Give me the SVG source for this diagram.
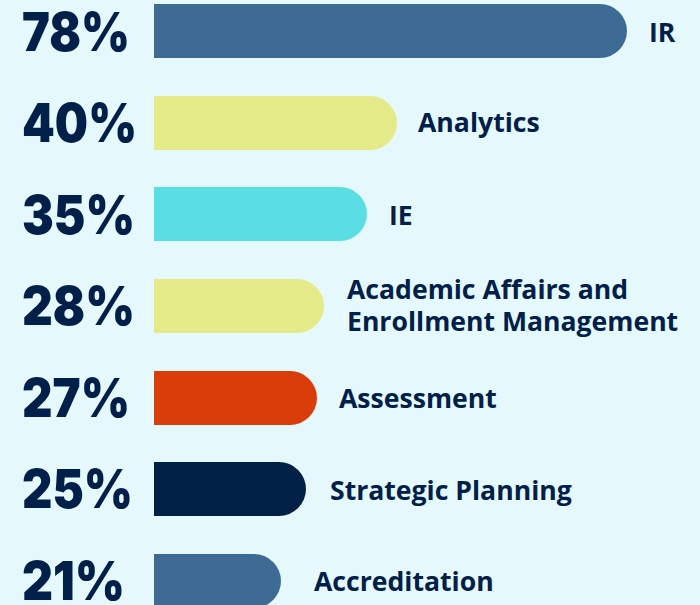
<svg xmlns="http://www.w3.org/2000/svg" width="700" height="605" viewBox="0 0 700 605">
<style>
.bg{fill:#e5f8fb}
.pct{font-family:Inter,"Liberation Sans",sans-serif;font-weight:900;font-size:54px;fill:#00204a}
.lbl{font-family:"Open Sans","Noto Sans",sans-serif;font-weight:700;font-size:26.6px;fill:#00204a}
.steel{fill:#3e6b93}
.yellow{fill:#e3ea87}
.cyan{fill:#5adde3}
.orange{fill:#d93d0a}
.navy{fill:#002045}
</style>
<rect class="bg" x="0" y="0" width="700" height="605"/>
<g id="row-ir">
<text class="pct" x="22" y="51" textLength="108" lengthAdjust="spacingAndGlyphs">78%</text>
<path class="steel" d="M154,4 H600 A27,27 0 0 1 600,58 H154 Z"/>
<text class="lbl" x="649" y="42">IR</text>
</g>
<g id="row-analytics">
<text class="pct" x="22" y="142" textLength="115" lengthAdjust="spacingAndGlyphs">40%</text>
<path class="yellow" d="M154,96 H370 A27,27 0 0 1 370,150 H154 Z"/>
<text class="lbl" x="418" y="132">Analytics</text>
</g>
<g id="row-ie">
<text class="pct" x="22" y="234" textLength="113" lengthAdjust="spacingAndGlyphs">35%</text>
<path class="cyan" d="M154,187 H340 A27,27 0 0 1 340,241 H154 Z"/>
<text class="lbl" x="389" y="225">IE</text>
</g>
<g id="row-academic">
<text class="pct" x="22" y="325" textLength="113" lengthAdjust="spacingAndGlyphs">28%</text>
<path class="yellow" d="M154,279 H297 A27,27 0 0 1 297,333 H154 Z"/>
<text class="lbl" x="347" y="299">Academic Affairs and</text>
<text class="lbl" x="347" y="331">Enrollment Management</text>
</g>
<g id="row-assessment">
<text class="pct" x="22" y="417" textLength="108" lengthAdjust="spacingAndGlyphs">27%</text>
<path class="orange" d="M154,371 H290 A27,27 0 0 1 290,425 H154 Z"/>
<text class="lbl" x="339" y="408">Assessment</text>
</g>
<g id="row-strategic">
<text class="pct" x="22" y="508" textLength="111" lengthAdjust="spacingAndGlyphs">25%</text>
<path class="navy" d="M154,462 H279 A27,27 0 0 1 279,516 H154 Z"/>
<text class="lbl" x="330" y="500">Strategic Planning</text>
</g>
<g id="row-accreditation">
<text class="pct" x="22" y="600" textLength="103" lengthAdjust="spacingAndGlyphs">21%</text>
<path class="steel" d="M154,554 H254 A27,27 0 0 1 254,608 H154 Z"/>
<text class="lbl" x="314" y="591">Accreditation</text>
</g>
<g id="connectors"></g>
</svg>
